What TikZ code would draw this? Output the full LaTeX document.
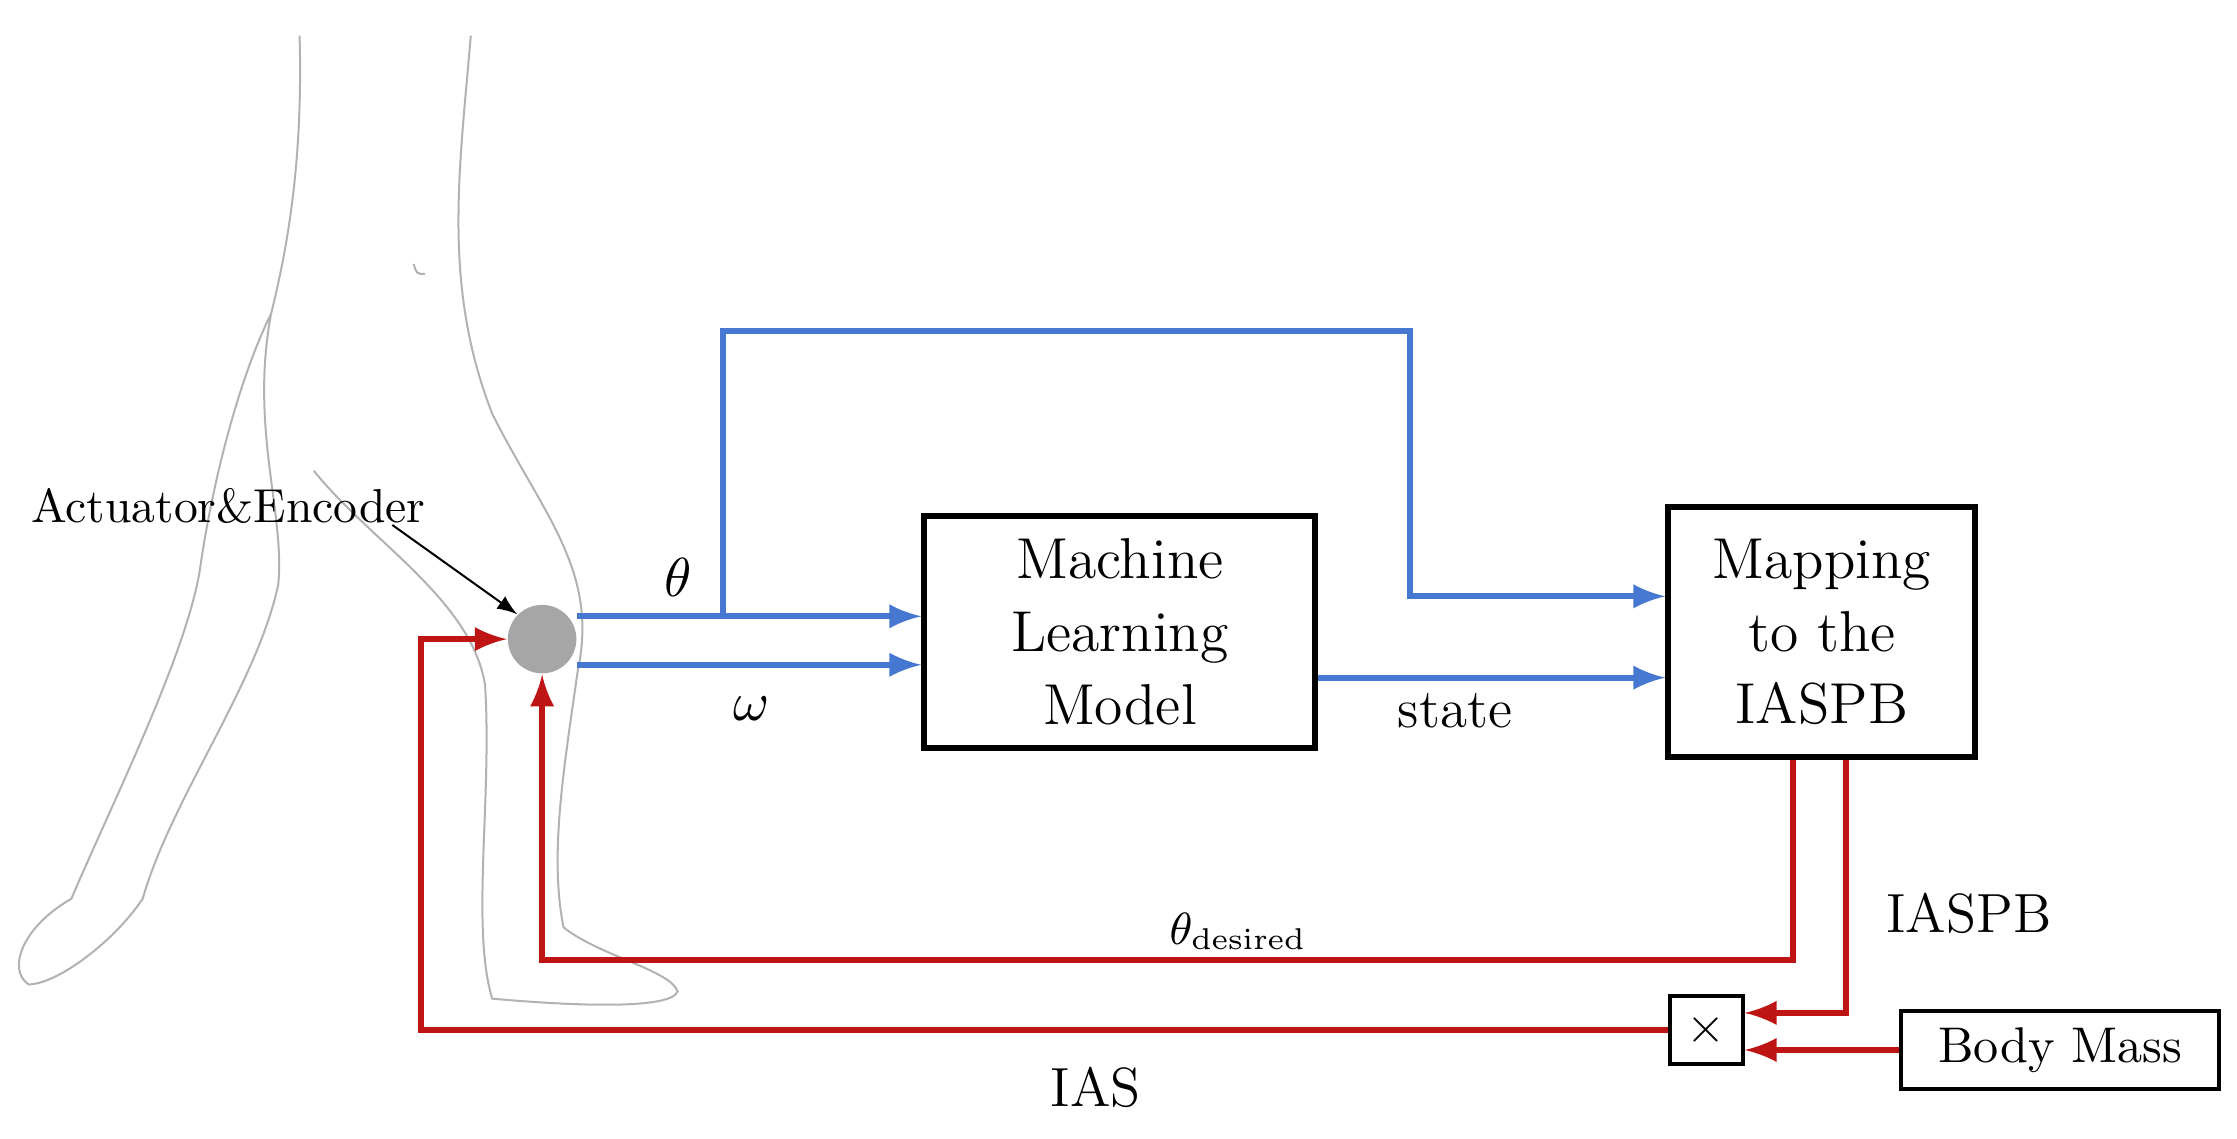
\documentclass[tikz,border=0pt]{standalone}
\usepackage{amssymb}
\usetikzlibrary{positioning}
\definecolor{flowblue}{RGB}{70,120,210}
\definecolor{flowred}{RGB}{190,20,20}
\begin{document}
\begin{tikzpicture}[x=0.01cm, y=-0.01cm, >=latex,
		blk/.style = {draw, very thick, align=center, font=\fontsize{11.5}{14.5}\selectfont},
		sig/.style = {very thick, flowblue, ->},
		fb/.style = {very thick, flowred, ->},
		lbl/.style = {font=\fontsize{11}{13}\selectfont}]
				\useasboundingbox (0,0) rectangle (1568,798);
				% leg outline
				\draw[gray!60, thin] (330,25) .. controls (322,120) and (310,200) .. (345,290)
					.. controls (380,360) and (420,400) .. (405,470)
					.. controls (395,540) and (385,600) .. (395,650)
					.. controls (420,670) and (470,680) .. (475,695)
					.. controls (470,708) and (400,705) .. (345,700)
					.. controls (330,650) and (345,560) .. (340,480)
					.. controls (330,420) and (260,380) .. (220,330);
				\draw[gray!60, thin] (210,25) .. controls (212,100) and (205,160) .. (190,220)
					.. controls (175,300) and (200,360) .. (195,410)
					.. controls (180,480) and (120,560) .. (100,630)
					.. controls (80,660) and (40,690) .. (20,690)
					.. controls (5,680) and (15,650) .. (50,630)
					.. controls (80,560) and (130,460) .. (140,400)
					.. controls (150,330) and (170,260) .. (190,220);
				\draw[gray!60, thin] (290,185) .. controls (292,192) .. (298,192);
				% blocks
				\node[blk, minimum width=274*0.01cm, minimum height=163*0.01cm] (ml) at (785,443) {Machine\\Learning\\Model};
				\node[blk, minimum width=215*0.01cm, minimum height=175*0.01cm] (map) at (1277,443) {Mapping\\to the\\IASPB};
				\node[draw, thick, minimum size=48*0.01cm] (mul) at (1196,722) {$\times$};
				\node[draw, thick, minimum width=223*0.01cm, minimum height=48*0.01cm, font=\fontsize{10}{12}\selectfont] (mass) at (1444,736) {Body Mass};
				\node[circle, fill=gray!70, minimum size=48*0.01cm, inner sep=0pt] (act) at (380,448) {};
				\node[font=\fontsize{9.5}{11}\selectfont] (actlbl) at (160,355) {Actuator\&Encoder};
				\draw[->, thin] (275,368) -- (act.135);
				% blue signals
				\coordinate (br) at (507,432);
				\draw[sig] (act.east |- br) -- (br) -- (ml.west |- br);
				\draw[sig] (br) -- (507,232) -- (988,232) -- (988,418) -- (map.west |- 0,418);
				\draw[sig] (act.east |- 0,466) -- (ml.west |- 0,466);
				\draw[sig] (ml.east |- 0,475) -- (map.west |- 0,475);
				\node[lbl] at (475,405) {$\theta$};
				\node[lbl] at (527,497) {$\omega$};
				\node[lbl] at (1020,498) {state};
				% red feedback
				\draw[fb] (map.south -| 1257,0) -- (1257,673) -- (380,673) -- (act.south);
				\draw[fb] (map.south -| 1294,0) -- (1294,710) -- (mul.east |- 0,710);
				\draw[fb] (mass.west) -- (mul.east |- mass.west);
				\draw[fb] (mul.west) -- (295,722) -- (295,448) -- (act.west);
				\node[font=\fontsize{9}{11}\selectfont] at (868,653) {$\theta_{\mathrm{desired}}$};
				\node[lbl] at (1380,640) {IASPB};
				\node[lbl] at (768,762) {IAS};
			\end{tikzpicture}
\end{document}
